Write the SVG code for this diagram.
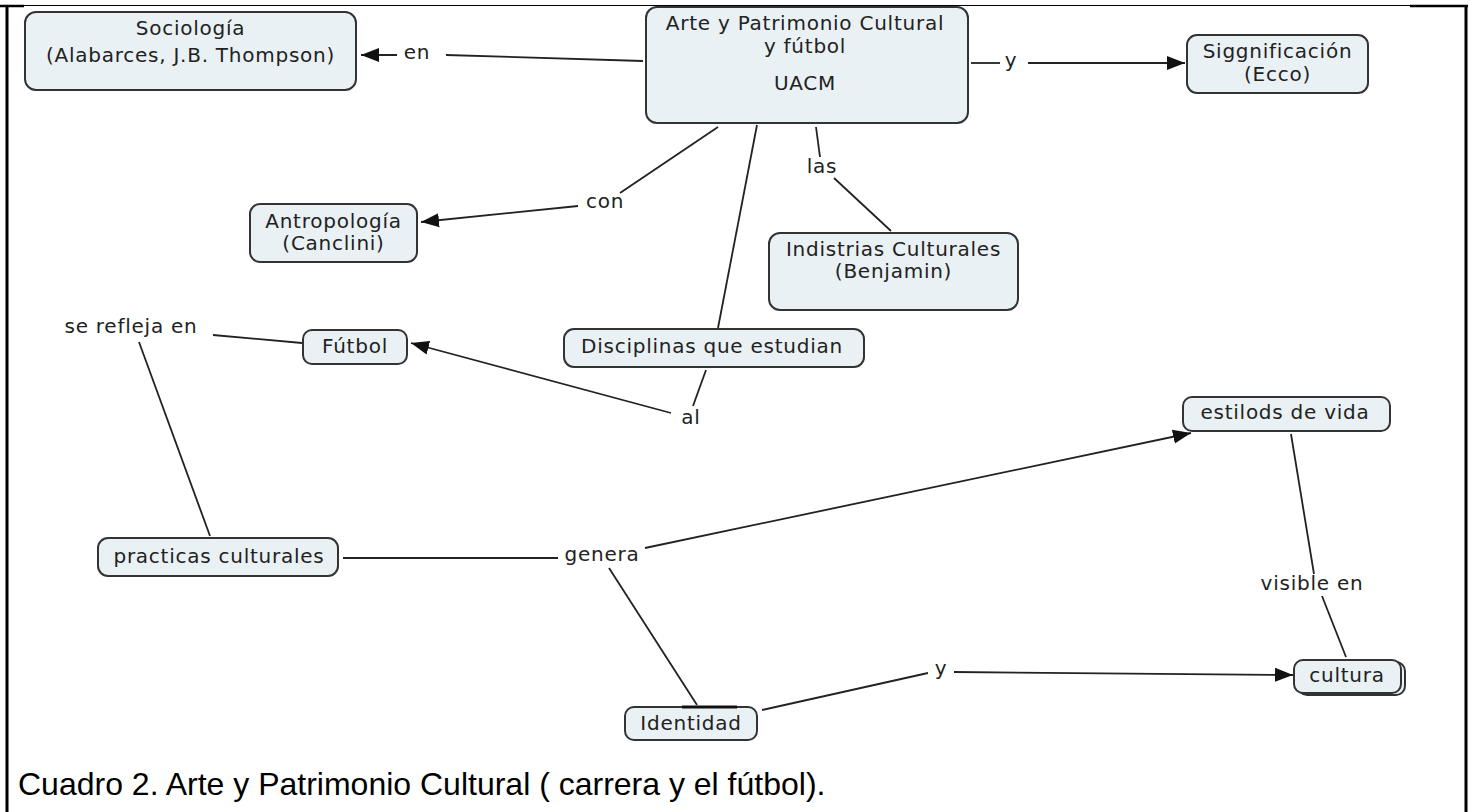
<svg xmlns="http://www.w3.org/2000/svg" width="1474" height="812" viewBox="0 0 1474 812">
<defs>
<marker id="arr" markerUnits="userSpaceOnUse" markerWidth="19" markerHeight="16" refX="18" refY="8" orient="auto">
<path d="M0,1 L18,8 L0,15 z" fill="#111"/>
</marker>
</defs>
<style>
.node rect{fill:#eaf1f4;stroke:#333;stroke-width:2}
.node text,.lbl{font-family:"DejaVu Sans",Verdana,sans-serif;font-size:20px;letter-spacing:0.75px;fill:#222;text-anchor:middle}
.conn line{stroke:#222;stroke-width:1.8;fill:none}
.cap{font-family:"Liberation Sans",Arial,sans-serif;font-size:32px;fill:#000}
.frame{stroke:#000;fill:none}
</style>
<rect width="1474" height="812" fill="#fff"/>
<g id="frame">
<line class="frame" x1="0" y1="6" x2="24" y2="6" stroke-width="2.5"/>
<line class="frame" x1="24" y1="5.5" x2="1410" y2="5.5" stroke-width="1.2"/>
<line class="frame" x1="1410" y1="6" x2="1468" y2="6" stroke-width="2.5"/>
<line class="frame" x1="7" y1="5" x2="7" y2="812" stroke-width="3"/>
<line class="frame" x1="1466" y1="5" x2="1466" y2="812" stroke-width="3"/>
</g>
<g id="connectors" class="conn">
<line x1="643" y1="61" x2="446" y2="55"/>
<line x1="397" y1="55" x2="361" y2="55" marker-end="url(#arr)"/>
<line x1="971" y1="63" x2="1000" y2="63"/>
<line x1="1028" y1="63" x2="1185" y2="63" marker-end="url(#arr)"/>
<line x1="718" y1="127" x2="620" y2="193"/>
<line x1="578" y1="206" x2="421" y2="222" marker-end="url(#arr)"/>
<line x1="816" y1="127" x2="820" y2="157"/>
<line x1="834" y1="178" x2="891" y2="231"/>
<line x1="757" y1="125" x2="718" y2="328"/>
<line x1="706" y1="370" x2="693" y2="406"/>
<line x1="671" y1="413" x2="411" y2="343" marker-end="url(#arr)"/>
<line x1="210" y1="536" x2="139" y2="342"/>
<line x1="213" y1="335" x2="302" y2="343"/>
<line x1="343" y1="558" x2="558" y2="558"/>
<line x1="645" y1="548" x2="1191" y2="433" marker-end="url(#arr)"/>
<line x1="609" y1="568" x2="697" y2="705"/>
<line x1="762" y1="710" x2="928" y2="673"/>
<line x1="954" y1="672" x2="1293" y2="675" marker-end="url(#arr)"/>
<line x1="1291" y1="434" x2="1314" y2="574"/>
<line x1="1322" y1="596" x2="1346" y2="657"/>
</g>
<g id="labels">
<text class="lbl" x="417" y="59">en</text>
<text class="lbl" x="1011" y="67">y</text>
<text class="lbl" x="605" y="208">con</text>
<text class="lbl" x="822" y="173">las</text>
<text class="lbl" x="691" y="424">al</text>
<text class="lbl" x="131" y="333">se refleja en</text>
<text class="lbl" x="602" y="561">genera</text>
<text class="lbl" x="1312" y="590">visible en</text>
<text class="lbl" x="941" y="675">y</text>
</g>
<g id="n-sociologia" class="node">
<rect x="25" y="12" width="331" height="78" rx="11"/>
<text x="190.5" y="35">Sociología</text>
<text x="190.5" y="62">(Alabarces, J.B. Thompson)</text>
</g>
<g id="n-main" class="node">
<rect x="646" y="7" width="322" height="116" rx="11"/>
<text x="805" y="30">Arte y Patrimonio Cultural</text>
<text x="805" y="53">y fútbol</text>
<text x="805" y="90">UACM</text>
</g>
<g id="n-significacion" class="node">
<rect x="1187" y="35" width="181" height="58" rx="10"/>
<text x="1277.5" y="58">Siggnificación</text>
<text x="1277.5" y="81">(Ecco)</text>
</g>
<g id="n-antropologia" class="node">
<rect x="250" y="204" width="167" height="58" rx="10"/>
<text x="333.5" y="228">Antropología</text>
<text x="333.5" y="250">(Canclini)</text>
</g>
<g id="n-industrias" class="node">
<rect x="769" y="233" width="249" height="77" rx="11"/>
<text x="893.5" y="256">Indistrias Culturales</text>
<text x="893.5" y="278">(Benjamin)</text>
</g>
<g id="n-futbol" class="node">
<rect x="303" y="330" width="104" height="34" rx="9"/>
<text x="355" y="353">Fútbol</text>
</g>
<g id="n-disciplinas" class="node">
<rect x="564" y="329" width="300" height="38" rx="10"/>
<text x="712" y="353">Disciplinas que estudian</text>
</g>
<g id="n-estilos" class="node">
<rect x="1183" y="397" width="207" height="34" rx="9"/>
<text x="1285" y="419">estilods de vida</text>
</g>
<g id="n-practicas" class="node">
<rect x="98" y="538" width="240" height="38" rx="10"/>
<text x="219" y="563">practicas culturales</text>
</g>
<g id="n-identidad" class="node">
<rect x="625" y="707" width="132" height="33" rx="9"/>
<line x1="682" y1="707" x2="737" y2="707" stroke="#111" stroke-width="3"/>
<text x="691" y="730">Identidad</text>
</g>
<g id="n-cultura" class="node">
<rect x="1298" y="662" width="107" height="33" rx="9"/>
<rect x="1294" y="660" width="107" height="33" rx="9"/>
<text x="1347" y="682">cultura</text>
</g>
<text class="cap" x="18" y="795">Cuadro 2. Arte y Patrimonio Cultural ( carrera y el fútbol).</text>
</svg>
